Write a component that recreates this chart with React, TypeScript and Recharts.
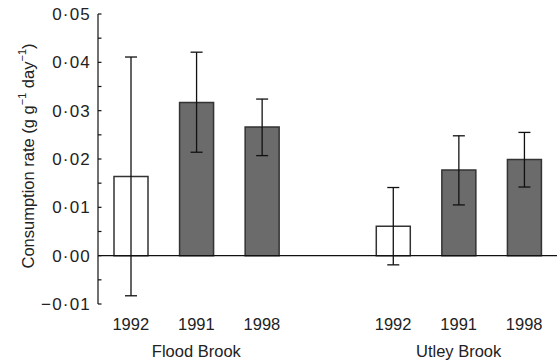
import { Bar, BarChart, Cell, ErrorBar, ReferenceLine, XAxis, YAxis } from "recharts";

const sites = ["Flood Brook", "Utley Brook"];
const years = ["1992", "1991", "1998"];
const floodRates = [0.0164, 0.0317, 0.0266];
const floodLow = [-0.0083, 0.0214, 0.0207];
const floodHigh = [0.0411, 0.0421, 0.0324];
const utleyRates = [0.0061, 0.0177, 0.0199];
const utleyLow = [-0.0019, 0.0105, 0.0142];
const utleyHigh = [0.0141, 0.0248, 0.0255];
const yTicks = [-0.01, -0.005, 0, 0.005, 0.01, 0.015, 0.02, 0.025, 0.03, 0.035, 0.04, 0.045, 0.05];

const FONT = "'Liberation Sans', Arial, sans-serif";

type Row = { key: string; year: string; site: string; rate: number | null; err: [number, number] | null };

const makeRows = (site: string, rates: number[], low: number[], high: number[], idx: number): Row[] =>
  years.map((year, i) => ({
    key: `${idx}-${year}`,
    year,
    site: i === 1 ? site : "",
    rate: rates[i],
    err: [rates[i] - low[i], high[i] - rates[i]],
  }));

const data: Row[] = [
  ...makeRows(sites[0], floodRates, floodLow, floodHigh, 0),
  { key: "gap", year: "", site: "", rate: null, err: null },
  ...makeRows(sites[1], utleyRates, utleyLow, utleyHigh, 1),
];

const fmt = (v: number) => (v < 0 ? "\u2212" : "") + Math.abs(v).toFixed(2).replace(".", "\u00b7");

const YTick = (props: any) => {
  const { x, y, payload } = props;
  const v = payload.value as number;
  const major = Math.abs(Math.round(v * 100) - v * 100) < 1e-6;
  return (
    <g>
      <line x1={x} x2={x + 3.5} y1={y} y2={y} stroke="#111" strokeWidth={1.2} />
      {major && (
        <text x={x - 7} y={y} dy={6} textAnchor="end" fontSize={17} fontFamily={FONT} fill="#222" letterSpacing={1.2}>
          {fmt(v)}
        </text>
      )}
    </g>
  );
};

const XTick = (props: any) => {
  const { x, y, payload, index } = props;
  const row = data[index] ?? data.find((d) => d.key === payload.value);
  if (!row) return null;
  return (
    <g>
      <text x={x} y={y + 18} textAnchor="middle" fontSize={16.5} fontFamily={FONT} fill="#222">
        {row.year}
      </text>
      {row.site && (
        <text x={x} y={y + 45} textAnchor="middle" fontSize={16.5} fontFamily={FONT} fill="#222">
          {row.site}
        </text>
      )}
    </g>
  );
};

const YLabel = () => {
  const cx = 28;
  const cy = 156;
  return (
    <text
      x={cx}
      y={cy}
      transform={`rotate(-90, ${cx}, ${cy})`}
      textAnchor="middle"
      dominantBaseline="central"
      fontSize={16.5}
      fontFamily={FONT}
      fill="#222"
    >
      Consumption rate (g g
      <tspan dy={-6} fontSize={11}>−1</tspan>
      <tspan dy={6}> day</tspan>
      <tspan dy={-6} fontSize={11}>−1</tspan>
      <tspan dy={6}>)</tspan>
    </text>
  );
};

export default function App() {
  return (
    <div style={{ position: "absolute", left: 0, top: 0, background: "#fff" }}>
      <BarChart width={560} height={364} data={data} margin={{ top: 14, right: 3, bottom: 10, left: 0 }} barSize={34}>
        <XAxis dataKey="key" axisLine={false} tickLine={false} height={50} tick={<XTick />} interval={0} />
        <YAxis
          width={98}
          domain={[-0.01, 0.05]}
          ticks={yTicks}
          interval={0}
          tickSize={0}
          tickMargin={0}
          tickLine={false}
          tick={<YTick />}
          axisLine={{ stroke: "#111", strokeWidth: 1.2 }}
          label={<YLabel />}
        />
        <ReferenceLine y={0} stroke="#111" strokeWidth={1.2} />
        <Bar dataKey="rate" isAnimationActive={false} stroke="#333" strokeWidth={1.5}>
          {data.map((d) => (
            <Cell key={d.key} fill={d.year === "1992" ? "#ffffff" : "#6b6b6b"} />
          ))}
          <ErrorBar dataKey="err" width={6} stroke="#111" strokeWidth={1.3} />
        </Bar>
      </BarChart>
    </div>
  );
}
